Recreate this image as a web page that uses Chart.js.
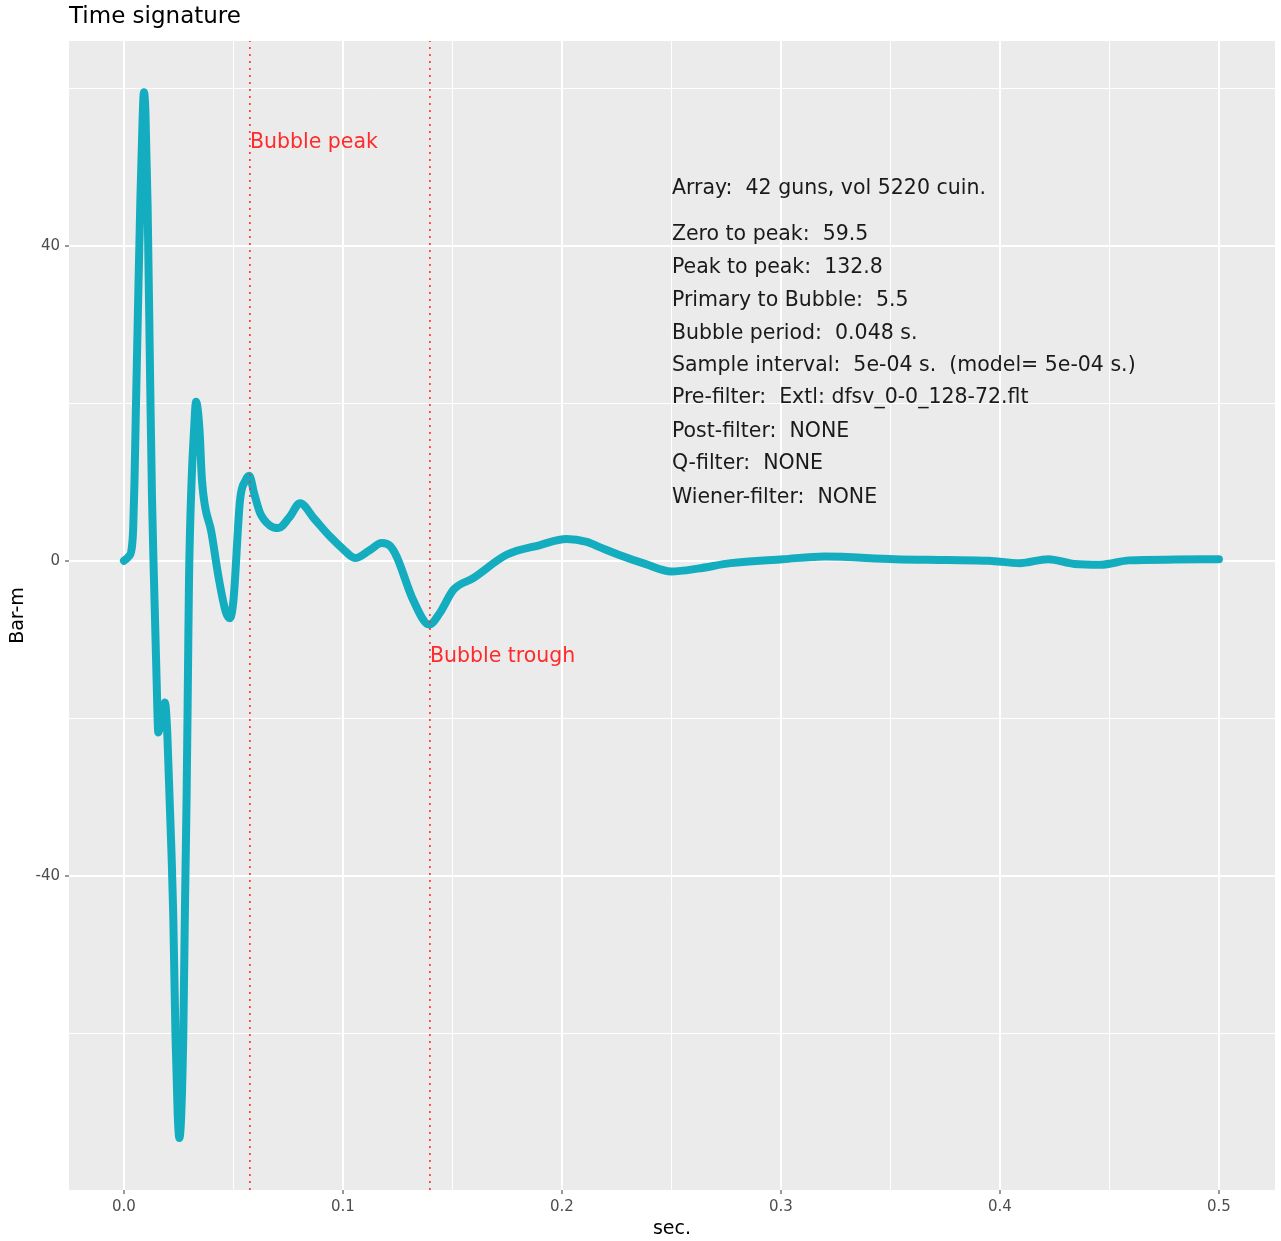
<!DOCTYPE html>
<html>
<head>
<meta charset="utf-8">
<title>Time signature</title>
<script src="https://cdn.jsdelivr.net/npm/chart.js@4"></script>
<style>
    body { margin: 0; background: #fff; }
    #wrap { width: 1281px; height: 1241px; }
</style>
</head>
<body>
<div id="wrap"><canvas id="sigChart" width="1281" height="1241"></canvas></div>
<script>
// signature: seconds / bar-m
const times = [
    0, 0.002, 0.0035, 0.0042, 0.0048, 0.0055, 0.0064, 0.0075, 0.0085, 0.0091,
    0.0098, 0.0108, 0.012, 0.0128, 0.0137, 0.0148, 0.0157, 0.0172, 0.0187, 0.0198,
    0.0218, 0.0225, 0.0235, 0.0245, 0.0253, 0.0262, 0.0271, 0.0279, 0.0286, 0.0292,
    0.0297, 0.0309, 0.032, 0.0329, 0.0345, 0.0356, 0.040, 0.0434, 0.0465, 0.0484,
    0.050, 0.053, 0.0555, 0.0572, 0.0595, 0.0621, 0.0665, 0.0705, 0.0755, 0.0804,
    0.087, 0.094, 0.100, 0.1055, 0.112, 0.1177, 0.1215, 0.1245, 0.132, 0.1394,
    0.1443, 0.1504, 0.1595, 0.1747, 0.19, 0.2021, 0.2113, 0.2175, 0.2265, 0.238,
    0.25, 0.262, 0.277, 0.301, 0.32, 0.352, 0.376, 0.395, 0.409, 0.422,
    0.434, 0.446, 0.459, 0.48, 0.5
];
const barm = [
    0, 0.5, 1.5, 4, 10, 20, 32, 46, 56, 59.5,
    57, 45, 22, 8, -2.4, -14, -21.8, -19.5, -18, -22,
    -38, -45, -60, -70, -73.3, -70, -60, -43, -30, -15,
    -2.4, 10.3, 16.6, 20.2, 16.6, 10.3, 3.5, -2.4, -6.5, -7.3,
    -5, 7.7, 10.2, 10.8, 8.5, 6.1, 4.5, 4.15, 5.5, 7.3,
    5.3, 3.1, 1.5, 0.35, 1.3, 2.25, 1.9, 0.55, -4.95, -8.1,
    -6.6, -3.7, -2.2, 0.76, 2.0, 2.75, 2.4, 1.7, 0.7, -0.4,
    -1.35, -1.0, -0.3, 0.2, 0.55, 0.2, 0.1, 0.0, -0.3, 0.2,
    -0.4, -0.5, 0.05, 0.15, 0.2
];

const bubbleTimes = [0.0575, 0.1397];
const bubbleLabels = ['Bubble peak', 'Bubble trough'];
const bubbleLabelY = [53.05, -12.15];

const xTicks = [0, 0.05, 0.1, 0.15, 0.2, 0.25, 0.3, 0.35, 0.4, 0.45, 0.5];
const yTicks = [-60, -40, -20, 0, 20, 40, 60];
const xRange = [-0.0251, 0.5256];
const yRange = [-79.9, 66.0];

const infoLines = [
    'Array:  42 guns, vol 5220 cuin.',
    'Zero to peak:  59.5',
    'Peak to peak:  132.8',
    'Primary to Bubble:  5.5',
    'Bubble period:  0.048 s.',
    'Sample interval:  5e-04 s.  (model= 5e-04 s.)',
    'Pre-filter:  Extl: dfsv_0-0_128-72.flt',
    'Post-filter:  NONE',
    'Q-filter:  NONE',
    'Wiener-filter:  NONE'
];
const infoY = [47.25, 41.4, 37.2, 33.0, 28.85, 24.75, 20.7, 16.35, 12.3, 8.0];
const infoX = 0.2502;

const FONT = '"DejaVu Sans", sans-serif';
const isMajorX = (v) => Math.abs(Math.round(v * 10) - v * 10) < 1e-6;
const isMajorY = (v) => Math.abs(v % 40) < 1e-6;

const panelPlugin = {
    id: 'panel',
    beforeDraw(chart) {
        const { ctx, chartArea: a } = chart;
        ctx.save();
        ctx.fillStyle = '#ebebeb';
        ctx.fillRect(a.left, a.top, a.right - a.left, a.bottom - a.top);
        ctx.fillStyle = '#000';
        ctx.font = '23px ' + FONT;
        ctx.textBaseline = 'middle';
        ctx.fillText('Time signature', a.left, 17);
        ctx.restore();
    },
    afterDatasetsDraw(chart) {
        const { ctx } = chart;
        const xs = chart.scales.x;
        const ys = chart.scales.y;
        ctx.save();
        ctx.textBaseline = 'middle';
        ctx.textAlign = 'left';
        ctx.font = '20.5px ' + FONT;
        ctx.fillStyle = '#ff2b2b';
        bubbleLabels.forEach((txt, i) => {
            ctx.fillText(txt, xs.getPixelForValue(bubbleTimes[i]), ys.getPixelForValue(bubbleLabelY[i]));
        });
        ctx.fillStyle = '#1a1a1a';
        infoLines.forEach((txt, i) => {
            ctx.fillText(txt, xs.getPixelForValue(infoX), ys.getPixelForValue(infoY[i]));
        });
        ctx.restore();
    }
};

const sigData = times.map((t, i) => ({ x: t, y: barm[i] }));

const dottedSets = bubbleTimes.map((t) => ({
    data: [{ x: t, y: yRange[0] }, { x: t, y: yRange[1] }],
    borderColor: '#ff3030',
    borderWidth: 1.6,
    borderDash: [2, 5],
    pointRadius: 0,
    order: 0
}));

const ctx = document.getElementById('sigChart').getContext('2d');

// eslint-disable-next-line no-undef
new Chart(ctx, {
    type: 'line',
    data: {
        datasets: [
            ...dottedSets,
            {
                data: sigData,
                borderColor: '#14adbf',
                borderWidth: 8,
                borderCapStyle: 'round',
                borderJoinStyle: 'round',
                cubicInterpolationMode: 'monotone',
                pointRadius: 0,
                order: 1
            }
        ]
    },
    options: {
        responsive: false,
        animation: false,
        layout: { padding: { top: 41, right: 6, left: 0, bottom: 0 } },
        plugins: {
            legend: { display: false },
            tooltip: { enabled: false }
        },
        scales: {
            x: {
                type: 'linear',
                min: xRange[0],
                max: xRange[1],
                afterBuildTicks: (scale) => { scale.ticks = xTicks.map(v => ({ value: v })); },
                afterFit: (scale) => { scale.height = 51; },
                border: { display: false },
                grid: {
                    color: '#ffffff',
                    lineWidth: (c) => isMajorX(c.tick.value) ? 2 : 1,
                    tickLength: 4,
                    tickColor: (c) => isMajorX(c.tick.value) ? '#333333' : 'rgba(0,0,0,0)',
                    tickWidth: 1
                },
                ticks: {
                    autoSkip: false,
                    maxRotation: 0,
                    padding: 4,
                    color: '#4d4d4d',
                    font: { family: FONT, size: 15 },
                    callback: (v) => isMajorX(v) ? v.toFixed(1) : ''
                },
                title: {
                    display: true,
                    text: 'sec.',
                    color: '#000',
                    font: { family: FONT, size: 19 },
                    padding: { top: 0, bottom: 1 }
                }
            },
            y: {
                type: 'linear',
                min: yRange[0],
                max: yRange[1],
                afterBuildTicks: (scale) => { scale.ticks = yTicks.map(v => ({ value: v })); },
                afterFit: (scale) => { scale.width = 69; },
                border: { display: false },
                grid: {
                    color: '#ffffff',
                    lineWidth: (c) => isMajorY(c.tick.value) ? 2 : 1,
                    tickLength: 4,
                    tickColor: (c) => isMajorY(c.tick.value) ? '#333333' : 'rgba(0,0,0,0)',
                    tickWidth: 1
                },
                ticks: {
                    autoSkip: false,
                    padding: 5,
                    color: '#4d4d4d',
                    font: { family: FONT, size: 15 },
                    callback: (v) => isMajorY(v) ? String(v) : ''
                },
                title: {
                    display: true,
                    text: 'Bar-m',
                    color: '#000',
                    font: { family: FONT, size: 19 },
                    padding: { top: 7, bottom: 0 }
                }
            }
        }
    },
    plugins: [panelPlugin]
});
</script>
</body>
</html>
